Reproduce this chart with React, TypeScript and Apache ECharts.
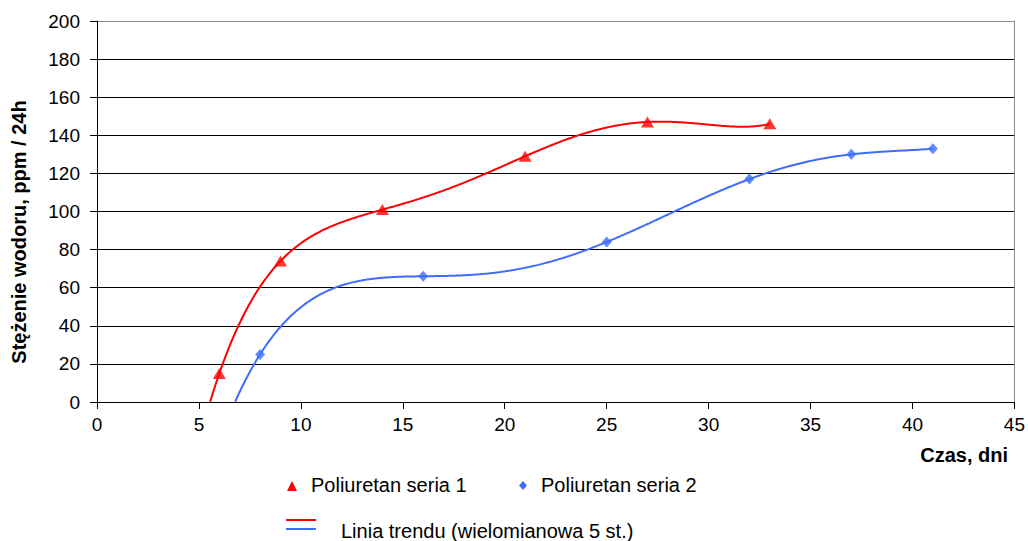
import React, { useEffect, useRef } from "react";
import * as echarts from "echarts";

// Measurement days and hydrogen concentration (ppm / 24h)
const series1Days = [6, 9, 14, 21, 27, 33];
const series1Values = [15, 74, 101, 129, 147, 146];
const series2Days = [8, 16, 25, 32, 37, 41];
const series2Values = [25, 66, 84, 117, 130, 133];

const series1Name = "Poliuretan seria 1";
const series2Name = "Poliuretan seria 2";
const trendName = "Linia trendu (wielomianowa 5 st.)";
const xAxisName = "Czas, dni";
const yAxisName = "Stężenie wodoru, ppm / 24h";

const RED = "#FF0000";
const BLUE = "#3D6DFF";
const FONT = "'Liberation Sans', Arial, sans-serif";

// Least-squares polynomial fit on scaled x, returns an evaluator
function polyFit(xs: number[], ys: number[], degree: number) {
  const mean = xs.reduce((a, b) => a + b, 0) / xs.length;
  const scale = Math.max(...xs.map((x) => Math.abs(x - mean))) || 1;
  const n = degree + 1;
  const A: number[][] = Array.from({ length: n }, () => new Array(n + 1).fill(0));
  xs.forEach((x, k) => {
    const t = (x - mean) / scale;
    const pw: number[] = [];
    for (let i = 0; i < 2 * n; i++) pw.push(Math.pow(t, i));
    for (let i = 0; i < n; i++) {
      for (let j = 0; j < n; j++) A[i][j] += pw[i + j];
      A[i][n] += pw[i] * ys[k];
    }
  });
  for (let c = 0; c < n; c++) {
    let p = c;
    for (let r = c + 1; r < n; r++) if (Math.abs(A[r][c]) > Math.abs(A[p][c])) p = r;
    [A[c], A[p]] = [A[p], A[c]];
    for (let r = 0; r < n; r++) {
      if (r === c) continue;
      const f = A[r][c] / A[c][c];
      for (let k = c; k <= n; k++) A[r][k] -= f * A[c][k];
    }
  }
  const coef = A.map((row, i) => row[n] / row[i]);
  return (x: number) => {
    const t = (x - mean) / scale;
    let v = 0;
    for (let i = n - 1; i >= 0; i--) v = v * t + coef[i];
    return v;
  };
}

function trendPoints(xs: number[], ys: number[]) {
  const f = polyFit(xs, ys, 5);
  let start = xs[0];
  while (f(start - 0.01) > 0 && start > 0) start -= 0.01;
  const pts: number[][] = [];
  for (let x = start; x < xs[xs.length - 1]; x += 0.05) pts.push([x, Math.max(0, f(x))]);
  pts.push([xs[xs.length - 1], f(xs[xs.length - 1])]);
  return pts;
}

export default function App() {
  const ref = useRef<HTMLDivElement>(null);

  useEffect(() => {
    if (!ref.current) return;
    const chart = echarts.init(ref.current, null, { renderer: "svg" });
    const gridColors = ["#000", "#000", "#000", "#000", "#000", "#000", "#000", "#000", "#000", "#000", "#8c8c8c"];

    chart.setOption({
      animation: false,
      backgroundColor: "#fff",
      textStyle: { fontFamily: FONT },
      grid: { left: 97, top: 21, right: 13, bottom: 139, containLabel: false },
      xAxis: {
        type: "value",
        min: 0,
        max: 45,
        interval: 5,
        axisLine: { show: true, lineStyle: { color: "#000", width: 1 } },
        axisTick: { show: true, inside: false, length: 7, lineStyle: { color: "#000" } },
        axisLabel: { color: "#000", fontSize: 19, margin: 13, fontFamily: FONT },
        splitLine: { show: false },
      },
      yAxis: [
        {
          type: "value",
          min: 0,
          max: 200,
          interval: 20,
          axisLine: { show: true, lineStyle: { color: "#000", width: 1 } },
          axisTick: { show: true, inside: false, length: 7, lineStyle: { color: "#000" } },
          axisLabel: { color: "#000", fontSize: 19, margin: 17, fontFamily: FONT },
          splitLine: { show: true, lineStyle: { color: gridColors, width: 1 } },
        },
        {
          type: "value",
          position: "right",
          min: 0,
          max: 200,
          axisLine: { show: true, lineStyle: { color: "#8c8c8c", width: 1 } },
          axisTick: { show: false },
          axisLabel: { show: false },
          splitLine: { show: false },
        },
      ],
      series: [
        {
          name: "trend1",
          type: "line",
          data: trendPoints(series1Days, series1Values),
          showSymbol: false,
          symbol: "none",
          lineStyle: { color: RED, width: 2 },
          z: 2,
          silent: true,
        },
        {
          name: "trend2",
          type: "line",
          data: trendPoints(series2Days, series2Values),
          showSymbol: false,
          symbol: "none",
          lineStyle: { color: BLUE, width: 2 },
          z: 2,
          silent: true,
        },
        {
          name: series1Name,
          type: "scatter",
          data: series1Days.map((d, i) => [d, series1Values[i]]),
          symbol: "triangle",
          symbolSize: [13, 11],
          itemStyle: { color: RED },
          z: 3,
        },
        {
          name: series2Name,
          type: "scatter",
          data: series2Days.map((d, i) => [d, series2Values[i]]),
          symbol: "diamond",
          symbolSize: [10, 11],
          itemStyle: { color: BLUE },
          z: 3,
        },
      ],
      graphic: [
        // axis titles
        {
          type: "text",
          x: 1008,
          y: 455,
          style: {
            text: xAxisName,
            fontFamily: FONT,
            fontSize: 20,
            fontWeight: "bold",
            fill: "#000",
            align: "right",
            verticalAlign: "middle",
          },
        },
        {
          type: "text",
          x: 19,
          y: 232,
          rotation: Math.PI / 2,
          style: {
            text: yAxisName,
            fontFamily: FONT,
            fontSize: 20,
            fontWeight: "bold",
            fill: "#000",
            align: "center",
            verticalAlign: "middle",
          },
        },
        // legend
        { type: "polygon", shape: { points: [[292, 481], [287, 491], [297, 491]] }, style: { fill: RED } },
        {
          type: "text",
          x: 311,
          y: 485,
          style: { text: series1Name, fontFamily: FONT, fontSize: 20, fill: "#000", verticalAlign: "middle" },
        },
        { type: "polygon", shape: { points: [[523, 481], [527, 485.5], [523, 490], [519, 485.5]] }, style: { fill: BLUE } },
        {
          type: "text",
          x: 541,
          y: 485,
          style: { text: series2Name, fontFamily: FONT, fontSize: 20, fill: "#000", verticalAlign: "middle" },
        },
        { type: "line", shape: { x1: 286, y1: 520, x2: 316, y2: 520 }, style: { stroke: RED, lineWidth: 2 } },
        { type: "line", shape: { x1: 286, y1: 529, x2: 316, y2: 529 }, style: { stroke: BLUE, lineWidth: 2 } },
        {
          type: "text",
          x: 341,
          y: 531,
          style: { text: trendName, fontFamily: FONT, fontSize: 20, fill: "#000", verticalAlign: "middle" },
        },
      ],
    });

    return () => chart.dispose();
  }, []);

  return (
    <div
      ref={ref}
      style={{ position: "fixed", left: 0, top: 0, width: 1028, height: 541, background: "#fff" }}
    />
  );
}
